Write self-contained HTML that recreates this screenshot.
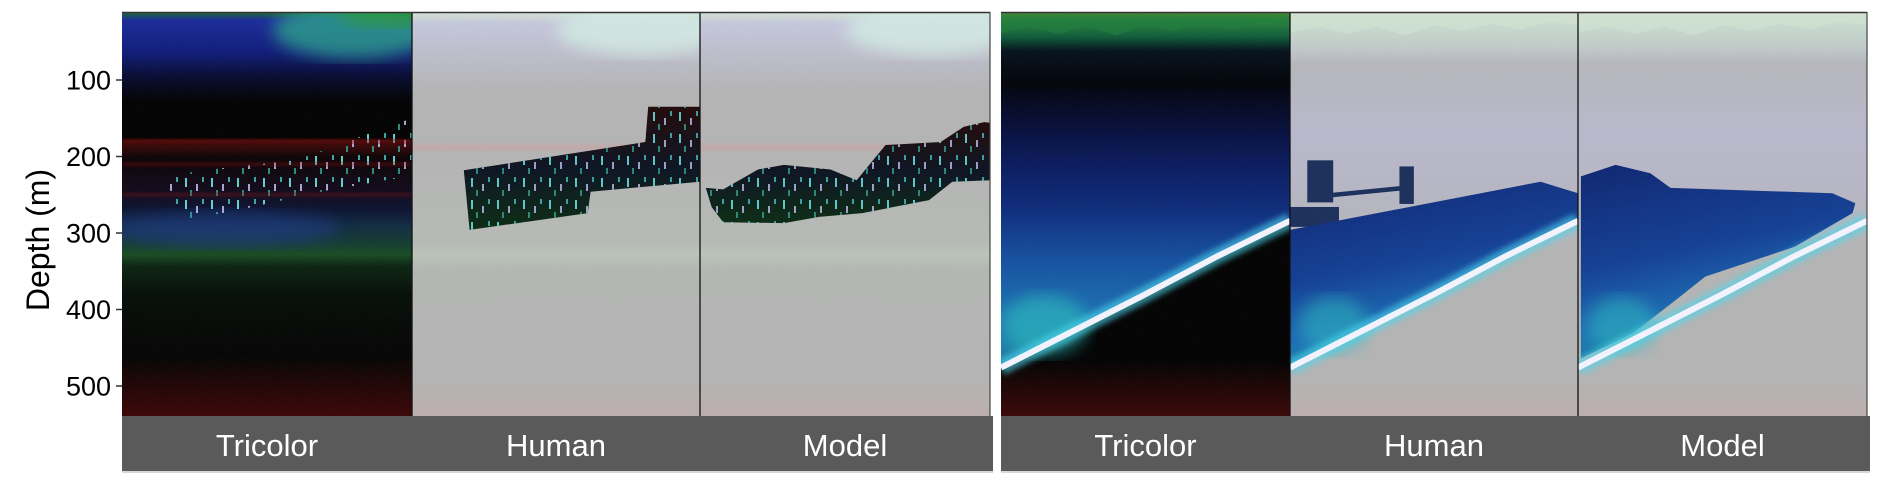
<!DOCTYPE html>
<html><head><meta charset="utf-8">
<style>
html,body{margin:0;padding:0;background:#fff;}
svg{display:block;}
text{font-family:"Liberation Sans",Arial,sans-serif;}
</style></head>
<body>
<svg id="chart" width="1879" height="483" viewBox="0 0 1879 483" xmlns="http://www.w3.org/2000/svg">
<defs>
  <filter id="noise" x="0" y="0" width="100%" height="100%">
    <feTurbulence type="fractalNoise" baseFrequency="0.9" numOctaves="2" seed="3"/>
    <feColorMatrix type="matrix" values="0 0 0 0 0.5  0 0 0 0 0.5  0 0 0 0 0.5  0 0 0 0.35 -0.05"/>
  </filter>
  <filter id="blur3"><feGaussianBlur stdDeviation="3"/></filter>
  <filter id="blur8"><feGaussianBlur stdDeviation="8"/></filter>
  <linearGradient id="gTriL" x1="0" y1="0" x2="0" y2="1">
    <stop offset="0" stop-color="#1a6a2a"/>
    <stop offset="0.02" stop-color="#1a2a9a"/>
    <stop offset="0.1" stop-color="#0e1a78"/>
    <stop offset="0.16" stop-color="#060a30"/>
    <stop offset="0.22" stop-color="#000"/>
    <stop offset="0.31" stop-color="#000"/>
    <stop offset="0.33" stop-color="#3a0606"/>
    <stop offset="0.36" stop-color="#0a0204"/>
    <stop offset="0.44" stop-color="#100818"/>
    <stop offset="0.49" stop-color="#0a1230"/>
    <stop offset="0.53" stop-color="#102a40"/>
    <stop offset="0.57" stop-color="#123a30"/>
    <stop offset="0.6" stop-color="#174a22"/>
    <stop offset="0.63" stop-color="#0a2210"/>
    <stop offset="0.7" stop-color="#040c06"/>
    <stop offset="0.85" stop-color="#030202"/>
    <stop offset="1" stop-color="#3a0404"/>
  </linearGradient>
  <linearGradient id="gPaleL" x1="0" y1="0" x2="0" y2="1">
    <stop offset="0" stop-color="#d4e4d4"/>
    <stop offset="0.03" stop-color="#c4c6dc"/>
    <stop offset="0.12" stop-color="#bcbcc8"/>
    <stop offset="0.2" stop-color="#b4b4b4"/>
    <stop offset="0.32" stop-color="#b4b4b4"/>
    <stop offset="0.335" stop-color="#c0a8a8"/>
    <stop offset="0.35" stop-color="#b4b4b4"/>
    <stop offset="0.57" stop-color="#b6bab6"/>
    <stop offset="0.6" stop-color="#bac4b8"/>
    <stop offset="0.64" stop-color="#b4b6b4"/>
    <stop offset="0.9" stop-color="#b4b4b4"/>
    <stop offset="1" stop-color="#bcaeae"/>
  </linearGradient>
  <linearGradient id="gTriR" x1="0" y1="0" x2="0" y2="1">
    <stop offset="0" stop-color="#9a9a20"/>
    <stop offset="0.02" stop-color="#2a8a3a"/>
    <stop offset="0.07" stop-color="#0e5a3a"/>
    <stop offset="0.11" stop-color="#04101a"/>
    <stop offset="0.2" stop-color="#000208"/>
    <stop offset="0.3" stop-color="#040a30"/>
    <stop offset="0.42" stop-color="#08185a"/>
    <stop offset="0.55" stop-color="#0c2a7a"/>
    <stop offset="0.7" stop-color="#1450a0"/>
    <stop offset="0.85" stop-color="#1a70b0"/>
    <stop offset="1" stop-color="#1a80a0"/>
  </linearGradient>
  <linearGradient id="gBelowR" x1="0" y1="0" x2="0" y2="1">
    <stop offset="0" stop-color="#000"/>
    <stop offset="0.86" stop-color="#000"/>
    <stop offset="1" stop-color="#3a0606"/>
  </linearGradient>
  <linearGradient id="gPaleR" x1="0" y1="0" x2="0" y2="1">
    <stop offset="0" stop-color="#d8dcc8"/>
    <stop offset="0.03" stop-color="#c8dcd0"/>
    <stop offset="0.09" stop-color="#c0cac8"/>
    <stop offset="0.13" stop-color="#b6b6bc"/>
    <stop offset="0.3" stop-color="#b8b8cc"/>
    <stop offset="0.45" stop-color="#b6b6c4"/>
    <stop offset="0.6" stop-color="#b4b4b4"/>
    <stop offset="0.9" stop-color="#b4b4b4"/>
    <stop offset="1" stop-color="#bcaeae"/>
  </linearGradient>
  <linearGradient id="gSchool" x1="0" y1="0" x2="0" y2="1">
    <stop offset="0" stop-color="#200808"/>
    <stop offset="0.5" stop-color="#0a1220"/>
    <stop offset="1" stop-color="#0a2a12"/>
  </linearGradient>
  <linearGradient id="gBlueFill" x1="0" y1="0" x2="0.3" y2="1">
    <stop offset="0" stop-color="#0c2470"/>
    <stop offset="0.5" stop-color="#123e94"/>
    <stop offset="0.8" stop-color="#1a6cb4"/>
    <stop offset="1" stop-color="#1a8a9a"/>
  </linearGradient>
  <pattern id="specks" width="26" height="22" patternUnits="userSpaceOnUse">
    <rect x="3" y="2" width="2" height="9" fill="#7ff"/>
    <rect x="14" y="8" width="2" height="7" fill="#ccf"/>
    <rect x="20" y="1" width="2" height="5" fill="#4cc"/>
    <rect x="8" y="14" width="2" height="6" fill="#3a9"/>
  </pattern>
</defs>
<g id="plots"></g>
</svg>
<script>
// ---- data (depth in metres; x as fraction of panel width) ----
const depthTicks = [100, 200, 300, 400, 500];
const panelLabels = ["Tricolor", "Human", "Model"];
const humanSchoolX = [0.18, 0.81, 0.82, 1.0, 1.0, 0.62, 0.61, 0.20];
const humanSchoolD = [218, 181, 135, 135, 233, 246, 274, 296];
const modelSchoolX = [0.02, 0.08, 0.20, 0.29, 0.45, 0.54, 0.64, 0.83, 0.91, 0.98, 1.0, 1.0, 0.87, 0.79, 0.56, 0.41, 0.29, 0.08, 0.04];
const modelSchoolD = [241, 243, 217, 211, 217, 231, 185, 181, 161, 155, 156, 231, 233, 257, 274, 279, 287, 286, 266];
const triSchoolX = [0.15, 0.35, 0.6, 0.85, 1.0, 1.0, 0.7, 0.4, 0.2];
const triSchoolD = [225, 215, 205, 170, 150, 225, 245, 270, 285];
const floorX = [0, 0.25, 0.5, 0.75, 1.0];
const floorD = [476, 428, 380, 330, 284];
const humanBlueX = [0, 0.87, 1.0];
const humanBlueD = [296, 233, 248];
const modelBlueX = [0.01, 0.13, 0.25, 0.32, 0.88, 0.96, 0.95, 0.75, 0.44, 0.34, 0.19, 0.01];
const modelBlueD = [226, 211, 222, 241, 248, 261, 274, 318, 357, 387, 431, 464];
const surfaceWaveX = [0, 0.1, 0.2, 0.3, 0.4, 0.5, 0.6, 0.7, 0.8, 0.9, 1.0];
const surfaceWaveD = [38, 30, 40, 30, 42, 28, 36, 26, 34, 24, 28];

// ---- layout ----
const NS = "http://www.w3.org/2000/svg";
const topY = 12, bottomY = 416, stripBottom = 471;
const yOf = d => 3.5 + 0.765 * d;
const groups = [[122, 412, 700, 990], [1001, 1290, 1578, 1867]];
const root = document.getElementById("plots");
function mk(tag, attrs, parent) {
  const e = document.createElementNS(NS, tag);
  for (const k in attrs) e.setAttribute(k, attrs[k]);
  (parent || root).appendChild(e);
  return e;
}
function poly(x0, w, xs, ds) { return xs.map((f, i) => (x0 + f * w).toFixed(1) + "," + yOf(ds[i]).toFixed(1)).join(" "); }
function floorPts(x0, w) { return floorX.map((f, i) => (x0 + f * w).toFixed(1) + "," + yOf(floorD[i]).toFixed(1)); }

groups.forEach((g, gi) => {
  const grp = mk("g", {});
  
  
  for (let p = 0; p < 3; p++) {
    const x0 = g[p], w = g[p + 1] - g[p];
    const pan = mk("g", {}, grp);
    
    
    const cp = mk("clipPath", { id: "cp" + gi + p }, pan);
    mk("rect", { x: x0, y: topY, width: w, height: bottomY - topY }, cp);
    const c = mk("g", { "clip-path": "url(#cp" + gi + p + ")" }, pan);
    if (gi === 0) {
      if (p === 0) {
        mk("rect", { x: x0, y: topY, width: w, height: bottomY - topY, fill: "url(#gTriL)" }, c);
        mk("ellipse", { cx: x0 + w * 0.8, cy: yOf(35), rx: w * 0.28, ry: 28, fill: "#2aa88a", opacity: 0.75, filter: "url(#blur8)" }, c);
        mk("ellipse", { cx: x0 + w * 0.95, cy: yOf(15), rx: w * 0.2, ry: 12, fill: "#2a9a2a", opacity: 0.7, filter: "url(#blur8)" }, c);
        mk("ellipse", { cx: x0 + w * 0.35, cy: yOf(295), rx: w * 0.4, ry: 18, fill: "#1a3a90", opacity: 0.55, filter: "url(#blur8)" }, c);
        mk("polygon", { points: poly(x0, w, triSchoolX, triSchoolD), fill: "url(#specks)", opacity: 0.8 }, c);
        [180, 210, 250].forEach((d, i) => mk("rect", { x: x0, y: yOf(d) - 2, width: w, height: 4, fill: "#8a1010", opacity: i === 0 ? 0.8 : 0.5, filter: "url(#blur3)" }, c));
      } else {
        mk("rect", { x: x0, y: topY, width: w, height: bottomY - topY, fill: "url(#gPaleL)" }, c);
        mk("ellipse", { cx: x0 + w * 0.8, cy: yOf(35), rx: w * 0.3, ry: 25, fill: "#d4eee4", opacity: 0.8, filter: "url(#blur8)" }, c);
        const xs = p === 1 ? humanSchoolX : modelSchoolX, ds = p === 1 ? humanSchoolD : modelSchoolD;
        const s = mk("polygon", { points: poly(x0, w, xs, ds), fill: "url(#gSchool)" }, c);
        
        
        mk("polygon", { points: poly(x0, w, xs, ds), fill: "url(#specks)", opacity: 0.75 }, c);
      }
    } else {
      const fp = floorPts(x0, w);
      const aboveFloor = [x0 + "," + topY, (x0 + w) + "," + topY].concat(fp.slice().reverse()).join(" ");
      const wave = [x0 + "," + topY, (x0 + w) + "," + topY].concat(poly(x0, w, surfaceWaveX, surfaceWaveD).split(" ").reverse()).join(" ");
      if (p === 0) {
        mk("rect", { x: x0, y: topY, width: w, height: bottomY - topY, fill: "url(#gBelowR)" }, c);
        mk("polygon", { points: aboveFloor, fill: "url(#gTriR)" }, c);
        mk("polygon", { points: wave, fill: "#1e7a3a", opacity: 0.7 }, c);
        mk("ellipse", { cx: x0 + w * 0.15, cy: yOf(420), rx: w * 0.15, ry: 30, fill: "#2ac0c0", opacity: 0.6, filter: "url(#blur8)" }, c);
      } else {
        mk("rect", { x: x0, y: topY, width: w, height: bottomY - topY, fill: "url(#gPaleR)" }, c);
        mk("polygon", { points: wave, fill: "#d0e4d4", opacity: 0.6 }, c);
        let pts;
        if (p === 1) {
          pts = poly(x0, w, humanBlueX, humanBlueD) + " " + fp.slice().reverse().join(" ");
          const h = mk("g", { fill: "#1a2e5a" }, c);
          
          
          mk("rect", { x: x0 + w * 0.06, y: yOf(205), width: w * 0.09, height: yOf(260) - yOf(205) }, h);
          mk("polygon", { points: poly(x0, w, [0.13, 0.4, 0.4, 0.13], [248, 238, 244, 254]) }, h);
          mk("rect", { x: x0 + w * 0.38, y: yOf(213), width: w * 0.05, height: yOf(262) - yOf(213) }, h);
          mk("rect", { x: x0, y: yOf(266), width: w * 0.17, height: yOf(292) - yOf(266) }, h);
        } else {
          pts = poly(x0, w, modelBlueX, modelBlueD);
        }
        const b = mk("polygon", { points: pts, fill: "url(#gBlueFill)" }, c);
        
        
        mk("ellipse", { cx: x0 + w * 0.15, cy: yOf(420), rx: w * 0.12, ry: 28, fill: "#2ab8c0", opacity: 0.55, filter: "url(#blur8)" }, c);
      }
      mk("polyline", { points: fp.join(" "), fill: "none", stroke: "#4ad8f0", "stroke-width": 16, opacity: 0.6, filter: "url(#blur3)" }, c);
      const fl = mk("polyline", { points: fp.join(" "), fill: "none", stroke: "#f4f4ff", "stroke-width": 6 }, c);
      
      
    }
    mk("rect", { x: x0, y: topY, width: w, height: bottomY - topY, filter: "url(#noise)", opacity: 0.25 }, c);
    if (p > 0) mk("line", { x1: x0, x2: x0, y1: topY, y2: bottomY, stroke: "#111", "stroke-width": 1.3 }, pan);
  }
  mk("line", { x1: g[0], x2: g[3], y1: topY + 0.5, y2: topY + 0.5, stroke: "#333", "stroke-width": 1.5 }, grp);
  mk("line", { x1: g[3], x2: g[3], y1: topY, y2: bottomY, stroke: "#444", "stroke-width": 1.2 }, grp);
  const strip = mk("rect", { x: g[0], y: bottomY, width: g[3] - g[0] + 3, height: stripBottom - bottomY, fill: "#5a5a5a" }, grp);
  
  
  mk("rect", { x: g[0], y: stripBottom, width: g[3] - g[0] + 3, height: 2, fill: "#d8d8d8" }, grp);
  for (let p = 0; p < 3; p++) {
    const t = mk("text", { x: (g[p] + g[p + 1]) / 2, y: 456, "text-anchor": "middle", fill: "#fff", "font-size": 31 }, grp);
    t.textContent = panelLabels[p];
    
    
  }
});

// y axis
const ax = mk("g", {});


depthTicks.forEach(d => {
  const y = yOf(d);
  mk("line", { x1: 116, x2: 122, y1: y, y2: y, stroke: "#333", "stroke-width": 1.5 }, ax);
  const t = mk("text", { x: 111, y: y + 9.5, "text-anchor": "end", "font-size": 27, fill: "#000" }, ax);
  t.textContent = d;
  
  
});
const yt = mk("text", { x: 0, y: 0, transform: "translate(49,240) rotate(-90)", "text-anchor": "middle", "font-size": 32, fill: "#000" }, ax);
yt.textContent = "Depth (m)";


</script>
</body></html>
